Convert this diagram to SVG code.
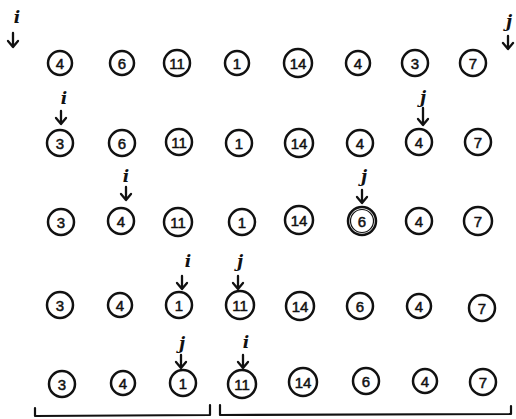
<svg xmlns="http://www.w3.org/2000/svg" width="516" height="419" viewBox="0 0 516 419">
<style>
.n circle{fill:none;stroke:#111;stroke-width:2.5}
.n text{font-family:"Liberation Sans",Arial,sans-serif;font-size:15px;fill:#111;stroke:#111;stroke-width:0.5;text-anchor:middle;dominant-baseline:central}
.lbl{font-family:"DejaVu Serif","Liberation Serif",serif;font-style:italic;font-weight:bold;font-size:17px;fill:#111;text-anchor:middle}
.ar{fill:none;stroke:#111;stroke-width:2.3;stroke-linecap:round;stroke-linejoin:round}
.br{fill:none;stroke:#111;stroke-width:2.2;stroke-linecap:round;stroke-linejoin:round}
</style>
<rect width="516" height="419" fill="#fff"/>
<!-- row 1 -->
<g id="r1c1" class="n"><circle cx="60" cy="63" r="12"/><text x="60" y="63">4</text></g>
<g id="r1c2" class="n"><circle cx="122" cy="63" r="12"/><text x="122" y="63">6</text></g>
<g id="r1c3" class="n"><circle cx="177" cy="63" r="13"/><text x="177" y="63">11</text></g>
<g id="r1c4" class="n"><circle cx="237" cy="63" r="12"/><text x="237" y="63">1</text></g>
<g id="r1c5" class="n"><circle cx="298" cy="63" r="14"/><text x="298" y="63">14</text></g>
<g id="r1c6" class="n"><circle cx="358" cy="63" r="12"/><text x="358" y="63">4</text></g>
<g id="r1c7" class="n"><circle cx="415" cy="63" r="13"/><text x="415" y="63">3</text></g>
<g id="r1c8" class="n"><circle cx="473" cy="63" r="13"/><text x="473" y="63">7</text></g>
<!-- row 2 -->
<g id="r2c1" class="n"><circle cx="60" cy="143" r="13"/><text x="60" y="143">3</text></g>
<g id="r2c2" class="n"><circle cx="122" cy="143" r="13"/><text x="122" y="143">6</text></g>
<g id="r2c3" class="n"><circle cx="179" cy="142" r="13"/><text x="179" y="142">11</text></g>
<g id="r2c4" class="n"><circle cx="239" cy="143" r="13"/><text x="239" y="143">1</text></g>
<g id="r2c5" class="n"><circle cx="299" cy="143" r="14"/><text x="299" y="143">14</text></g>
<g id="r2c6" class="n"><circle cx="360" cy="143" r="13"/><text x="360" y="143">4</text></g>
<g id="r2c7" class="n"><circle cx="419" cy="142" r="13"/><text x="419" y="142">4</text></g>
<g id="r2c8" class="n"><circle cx="478" cy="142" r="13"/><text x="478" y="142">7</text></g>
<!-- row 3 -->
<g id="r3c1" class="n"><circle cx="61" cy="222" r="13"/><text x="61" y="222">3</text></g>
<g id="r3c2" class="n"><circle cx="121" cy="221" r="13"/><text x="121" y="221">4</text></g>
<g id="r3c3" class="n"><circle cx="178" cy="222" r="14"/><text x="178" y="222">11</text></g>
<g id="r3c4" class="n"><circle cx="242" cy="222" r="13"/><text x="242" y="222">1</text></g>
<g id="r3c5" class="n"><circle cx="299" cy="220" r="14"/><text x="299" y="220">14</text></g>
<g id="r3c6" class="n"><circle cx="362" cy="221" r="14"/><circle cx="362" cy="221" r="11.5" style="stroke-width:1.2"/><text x="362" y="221">6</text></g>
<g id="r3c7" class="n"><circle cx="419" cy="221" r="13"/><text x="419" y="221">4</text></g>
<g id="r3c8" class="n"><circle cx="478" cy="221" r="14"/><text x="478" y="221">7</text></g>
<!-- row 4 -->
<g id="r4c1" class="n"><circle cx="60" cy="305" r="13"/><text x="60" y="305">3</text></g>
<g id="r4c2" class="n"><circle cx="120" cy="305" r="12"/><text x="120" y="305">4</text></g>
<g id="r4c3" class="n"><circle cx="179" cy="305" r="13"/><text x="179" y="305">1</text></g>
<g id="r4c4" class="n"><circle cx="240" cy="305" r="14"/><text x="240" y="305">11</text></g>
<g id="r4c5" class="n"><circle cx="300" cy="306" r="14"/><text x="300" y="306">14</text></g>
<g id="r4c6" class="n"><circle cx="360" cy="306" r="13"/><text x="360" y="306">6</text></g>
<g id="r4c7" class="n"><circle cx="419" cy="306" r="12"/><text x="419" y="306">4</text></g>
<g id="r4c8" class="n"><circle cx="482" cy="308" r="13"/><text x="482" y="308">7</text></g>
<!-- row 5 -->
<g id="r5c1" class="n"><circle cx="62" cy="384" r="13"/><text x="62" y="384">3</text></g>
<g id="r5c2" class="n"><circle cx="123" cy="383" r="12"/><text x="123" y="383">4</text></g>
<g id="r5c3" class="n"><circle cx="183" cy="383" r="13"/><text x="183" y="383">1</text></g>
<g id="r5c4" class="n"><circle cx="242" cy="384" r="14"/><text x="242" y="384">11</text></g>
<g id="r5c5" class="n"><circle cx="303" cy="382" r="14"/><text x="303" y="382">14</text></g>
<g id="r5c6" class="n"><circle cx="366" cy="381" r="13"/><text x="366" y="381">6</text></g>
<g id="r5c7" class="n"><circle cx="425" cy="381" r="12"/><text x="425" y="381">4</text></g>
<g id="r5c8" class="n"><circle cx="483" cy="382" r="13"/><text x="483" y="382">7</text></g>
<!-- pointer labels -->
<g id="labels">
<text class="lbl" x="17" y="23">i</text>
<text class="lbl" x="64" y="104">i</text>
<text class="lbl" x="423" y="103">j</text>
<text class="lbl" x="126" y="182">i</text>
<text class="lbl" x="364" y="182">j</text>
<text class="lbl" x="188" y="267">i</text>
<text class="lbl" x="240" y="267">j</text>
<text class="lbl" x="182" y="349">j</text>
<text class="lbl" x="246" y="348">i</text>
<text class="lbl" x="509" y="27">j</text>
</g>
<!-- connectors -->
<g id="connectors" class="ar">
<path d="M13,33 V47 M8,41 L13,47 L18,41"/>
<path d="M61,111 V124 M56,118 L61,124 L66,118"/>
<path d="M423,108 V125 M418,119 L423,125 L428,119"/>
<path d="M126,187 V200 M121,194 L126,200 L131,194"/>
<path d="M362,190 V203 M357,197 L362,203 L367,197"/>
<path d="M182,276 V289 M177,283 L182,289 L187,283"/>
<path d="M238,276 V289 M233,283 L238,289 L243,283"/>
<path d="M181,355 V368 M176,362 L181,368 L186,362"/>
<path d="M243,355 V368 M238,362 L243,368 L248,362"/>
<path d="M508,36 V49 M503,43 L508,49 L513,43"/>
</g>
<g id="brackets" class="br">
<path d="M35,408 V416 L210,415 V405"/>
<path d="M220,405 V415 L511,414 V406"/>
</g>
</svg>
